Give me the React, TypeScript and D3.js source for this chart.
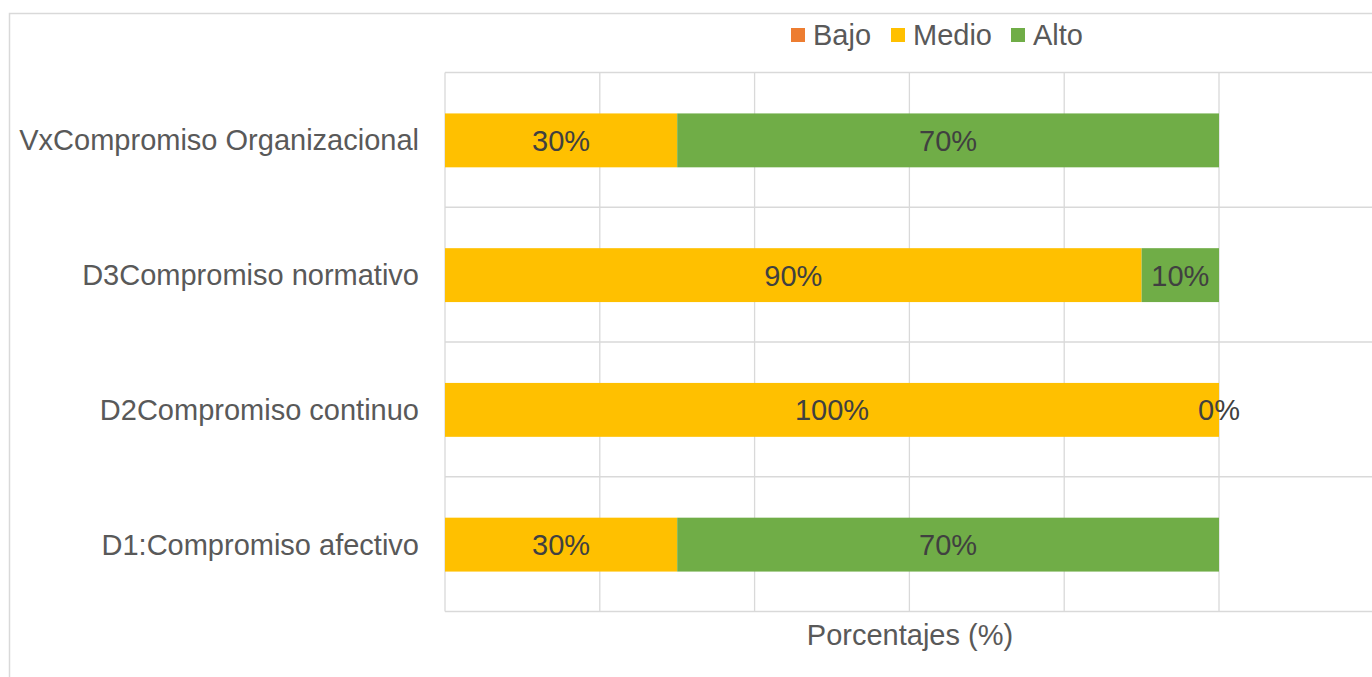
import React from "react";
import * as d3 from "d3";

const categories = [
  "VxCompromiso Organizacional",
  "D3Compromiso normativo",
  "D2Compromiso continuo",
  "D1:Compromiso afectivo",
];
const seriesNames = ["Bajo", "Medio", "Alto"];
const bajo = [0, 0, 0, 0];
const medio = [0.3, 0.9, 1.0, 0.3];
const alto = [0.7, 0.1, 0.0, 0.7];
const xTicks = [0, 0.2, 0.4, 0.6, 0.8, 1.0, 1.2];
const axisTitle = "Porcentajes (%)";

const colors: Record<string, string> = { Bajo: "#ED7D31", Medio: "#FFC000", Alto: "#70AD47" };
const FONT = "'Liberation Sans', Arial, sans-serif";

export default function App() {
  const W = 1372, H = 677;
  const left = 445, right = 1219, top = 72.5, bottom = 611.5;
  const x = d3.scaleLinear().domain([0, 1]).range([left, right]);
  const y = d3.scaleBand().domain(categories).range([top + 0.5, bottom + 0.5]).paddingInner(0.6).paddingOuter(0.3);
  const yBand = d3.scaleBand().domain(categories).range([top, bottom]);

  const rows = categories.map((c, i) => ({ cat: c, Bajo: bajo[i], Medio: medio[i], Alto: alto[i] }));
  const stack = d3.stack<any>().keys(seriesNames)(rows);

  const legendX = [791, 891, 1011];
  const FS = 29;

  return (
    <svg width={W} height={H} style={{ position: "absolute", left: 0, top: 0, background: "#fff" }} fontFamily={FONT}>
      <rect x={9.5} y={13.5} width={W} height={H} fill="#fff" stroke="#D9D9D9" strokeWidth={1.5} />
      {categories.map((c) => (
        <line key={"h" + c} x1={left} x2={W} y1={yBand(c)!} y2={yBand(c)!} stroke="#D9D9D9" strokeWidth={1.3} />
      ))}
      <line x1={left} x2={W} y1={bottom} y2={bottom} stroke="#D9D9D9" strokeWidth={1.5} />
      {xTicks.map((t) => (
        <line key={"v" + t} x1={x(t)} x2={x(t)} y1={top} y2={bottom} stroke="#D9D9D9" strokeWidth={1.3} />
      ))}
      {stack.map((s) => (
        <g key={s.key} fill={colors[s.key]}>
          {s.map((d, i) => (
            <rect key={i} x={x(d[0])} y={y(categories[i])!} width={Math.max(0, x(d[1]) - x(d[0]))} height={y.bandwidth()} />
          ))}
        </g>
      ))}
      {stack.filter((s) => s.key !== "Bajo").map((s) => (
        <g key={"l" + s.key}>
          {s.map((d, i) => (
            <text key={i} x={(x(d[0]) + x(d[1])) / 2} y={y(categories[i])! + y.bandwidth() / 2} dy="0.36em"
              textAnchor="middle" fontSize={FS} fill="#404040">
              {Math.round((d[1] - d[0]) * 100) + "%"}
            </text>
          ))}
        </g>
      ))}
      {categories.map((c) => (
        <text key={"c" + c} x={419} y={yBand(c)! + yBand.bandwidth() / 2} dy="0.36em" textAnchor="end" fontSize={FS} fill="#595959">
          {c}
        </text>
      ))}
      <text x={910} y={635} dy="0.36em" textAnchor="middle" fontSize={FS} fill="#595959">{axisTitle}</text>
      {seriesNames.map((n, i) => (
        <g key={"lg" + n}>
          <rect x={legendX[i]} y={28} width={14} height={14} fill={colors[n]} />
          <text x={legendX[i] + 22} y={35} dy="0.36em" fontSize={FS} fill="#595959">{n}</text>
        </g>
      ))}
    </svg>
  );
}
